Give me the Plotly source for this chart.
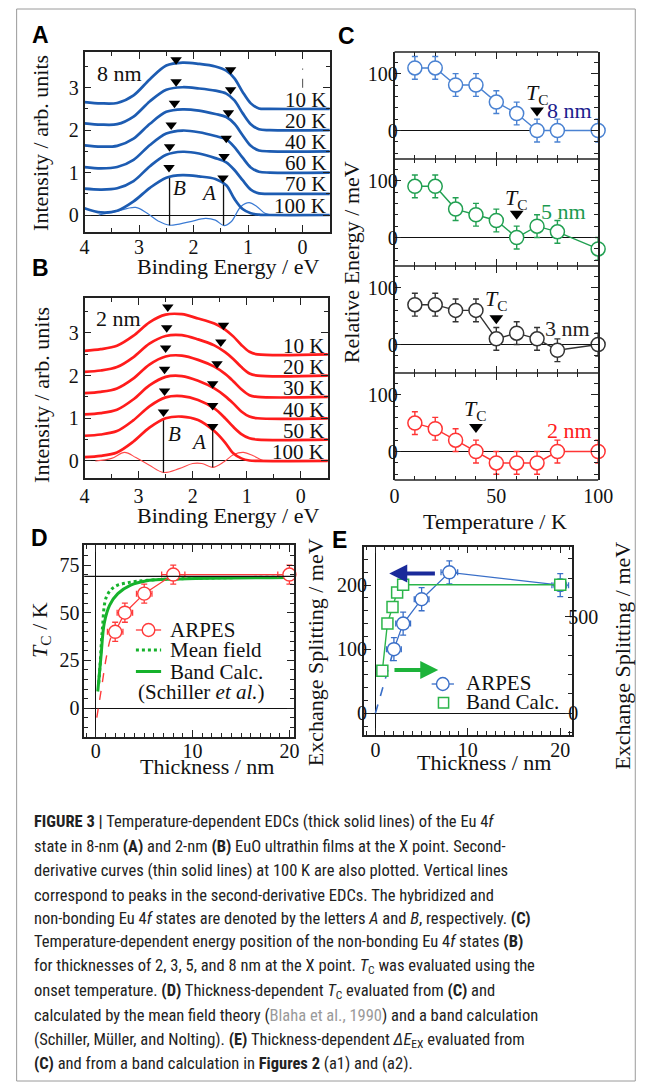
import plotly.graph_objects as go

W, H = 659, 1089
SERIF = "Liberation Serif, Times New Roman, serif"
SANS = "Liberation Sans, Arial, sans-serif"
CAPF = "Liberation Sans Narrow, Roboto Condensed, Roboto, sans-serif"


def X(p):
    return p / W


def Y(p):
    return 1 - p / H


# ---------------- Panel A (8 nm EDCs) ----------------
energy_A = [4.0, 3.7, 3.4, 3.1, 2.8, 2.5, 2.2, 1.9, 1.6, 1.4, 1.25, 1.1, 0.95, 0.8, 0.6, -0.5]
labels_A = ["10 K", "20 K", "40 K", "60 K", "70 K", "100 K"]
edc_A_10K = [2.66, 2.63, 2.64, 2.82, 3.20, 3.52, 3.59, 3.56, 3.50, 3.40, 3.22, 2.90, 2.63, 2.51, 2.50, 2.50]
edc_A_20K = [2.16, 2.13, 2.14, 2.32, 2.68, 2.95, 3.01, 2.98, 2.93, 2.86, 2.70, 2.40, 2.14, 2.02, 2.00, 2.00]
edc_A_40K = [1.64, 1.61, 1.63, 1.80, 2.15, 2.43, 2.49, 2.46, 2.38, 2.31, 2.15, 1.88, 1.63, 1.52, 1.50, 1.50]
edc_A_60K = [1.13, 1.10, 1.13, 1.30, 1.65, 1.92, 1.99, 1.95, 1.86, 1.78, 1.60, 1.35, 1.12, 1.02, 1.00, 1.00]
edc_A_70K = [0.62, 0.60, 0.63, 0.80, 1.15, 1.42, 1.49, 1.45, 1.34, 1.24, 1.06, 0.82, 0.60, 0.51, 0.50, 0.50]
edc_A_100K = [0.16, 0.06, 0.10, 0.32, 0.64, 0.88, 0.94, 0.91, 0.85, 0.70, 0.38, 0.14, 0.04, 0.01, 0.00, 0.00]
edc_A = [edc_A_10K, edc_A_20K, edc_A_40K, edc_A_60K, edc_A_70K, edc_A_100K]

d2_energy_A = [3.74, 3.44, 3.06, 2.85, 2.65, 2.44, 2.08, 1.78, 1.60, 1.44, 1.31, 1.13, 0.98, 0.84, 0.69, 0.55]
d2_A = [0.0, 0.08, 0.18, 0.04, -0.14, -0.24, -0.16, -0.08, -0.12, -0.25, -0.16, 0.20, 0.29, 0.20, 0.04, 0.0]

peakB_A_x = [2.32, 2.32, 2.35, 2.41, 2.44, 2.45]
peakB_A_y = [3.66, 3.14, 2.63, 2.12, 1.61, 1.12]
peakA_A_x = [1.32, 1.32, 1.36, 1.40, 1.44, 1.46]
peakA_A_y = [3.42, 2.95, 2.41, 1.81, 1.38, 0.87]

vline_A_x = [2.44, 1.45]
vline_A_y0 = [-0.24, -0.24]
vline_A_y1 = [0.90, 0.78]

# ---------------- Panel B (2 nm EDCs) ----------------
energy_B = [4.0, 3.7, 3.4, 3.1, 2.8, 2.5, 2.2, 1.9, 1.6, 1.4, 1.25, 1.1, 0.95, 0.8, -0.5]
labels_B = ["10 K", "20 K", "30 K", "40 K", "50 K", "100 K"]
edc_B_10K = [2.58, 2.62, 2.70, 2.93, 3.25, 3.43, 3.44, 3.34, 3.22, 3.08, 2.92, 2.72, 2.56, 2.50, 2.50]
edc_B_20K = [2.09, 2.12, 2.20, 2.43, 2.75, 2.93, 2.95, 2.85, 2.71, 2.55, 2.39, 2.20, 2.05, 2.00, 2.00]
edc_B_30K = [1.59, 1.62, 1.70, 1.93, 2.26, 2.45, 2.47, 2.37, 2.21, 2.04, 1.87, 1.68, 1.54, 1.50, 1.50]
edc_B_40K = [1.09, 1.12, 1.20, 1.44, 1.77, 1.97, 1.99, 1.88, 1.70, 1.52, 1.35, 1.16, 1.04, 1.00, 1.00]
edc_B_50K = [0.59, 0.62, 0.70, 0.95, 1.28, 1.49, 1.52, 1.43, 1.23, 1.00, 0.80, 0.63, 0.53, 0.50, 0.50]
edc_B_100K = [0.09, 0.12, 0.20, 0.45, 0.78, 1.00, 1.04, 0.96, 0.70, 0.43, 0.18, 0.06, 0.01, 0.00, 0.00]
edc_B = [edc_B_10K, edc_B_20K, edc_B_30K, edc_B_40K, edc_B_50K, edc_B_100K]

d2_energy_B = [3.80, 3.50, 3.26, 3.05, 2.80, 2.54, 2.25, 2.00, 1.83, 1.63, 1.42, 1.24, 1.06, 0.88, 0.70, 0.50]
d2_B = [0.0, 0.06, 0.20, 0.08, -0.10, -0.27, -0.18, -0.06, -0.06, -0.15, -0.02, 0.15, 0.20, 0.12, 0.01, 0.0]

peakB_B_x = [2.46, 2.48, 2.50, 2.52, 2.52, 2.54]
peakB_B_y = [3.61, 3.12, 2.65, 2.15, 1.64, 1.15]
peakA_B_x = [1.43, 1.48, 1.55, 1.63, 1.63, 1.63]
peakA_B_y = [3.18, 2.79, 2.28, 1.81, 1.30, 0.81]

vline_B_x = [2.54, 1.63]
vline_B_y0 = [-0.27, -0.15]
vline_B_y1 = [1.00, 0.72]

# ---------------- Panel C (relative energy vs temperature) ----------------
temps_C = [10, 20, 30, 40, 50, 60, 70, 80, 100]
rel_8nm = [110, 110, 80, 80, 50, 30, 0, 0, 0]
rel_5nm = [90, 90, 50, 40, 30, 0, 20, 10, -20]
rel_3nm = [70, 70, 60, 60, 10, 20, 10, -10, 0]
rel_2nm = [50, 40, 20, 0, -20, -20, -20, 0, 0]
rel_err = 20
names_C = ["8 nm", "5 nm", "3 nm", "2 nm"]
tc_C = [70, 60, 50, 40]
tc_mark_y = [35, 42, 46, 43]
tc_text_y = [65, 68, 79, 73]
name_pos_x = [86, 83, 85, 86]
name_pos_y = [35, 45, 28, 37]

# ---------------- Panel D (Tc vs thickness) ----------------
thick_D = [2, 3, 5, 8, 20]
tc_D = [40, 50, 60, 70, 70]
tc_D_err = 5
thick_D_err = [0.8, 0.8, 0.8, 1.2, 1.2]
extrap_D_x = [0.1, 0.6, 1.1, 1.6, 2.0]
extrap_D_y = [-5, 11, 27, 37.5, 40]
mean_field_x = [0.30, 0.43, 0.67, 1.1, 1.93, 3.27, 5.3, 10, 20]
mean_field_y = [13, 22, 41, 58.4, 63.6, 65.7, 67, 68, 68.7]
band_D_x = [0.2, 0.53, 0.87, 1.43, 2.27, 3.6, 5.27, 7.27, 10.3, 20]
band_D_y = [8.7, 27, 44.5, 54, 60, 64.5, 66.8, 67.5, 68, 68.5]
bulk_tc = 69

# ---------------- Panel E (exchange splitting) ----------------
thick_E = [2, 3, 5, 8, 20]
split_E = [100, 140, 178, 220, 200]
split_E_err = 18
thick_E_err = [0.8, 0.8, 0.8, 0.9, 0.9]
extrap_E_x = [0, 2]
extrap_E_y = [0, 100]
band_E_x = [0.75, 1.3, 1.85, 2.35, 3.0, 20]
band_E_y = [220, 465, 550, 625, 665, 665]

BLUE_A = "#1d5cb2"
BLUE_A2 = "#3b7bd4"
RED_B = "#ff1c1c"
C_COLORS = ["#4a82d2", "#22a052", "#333333", "#ff3434"]
C_TEXT = ["#1c1c8e", "#1a9a50", "#222222", "#ff2020"]
GREEN = "#16b22c"
RED_D = "#ff3b3b"
BLUE_E = "#3a6fc8"
GREEN_E = "#2bb54a"

fig = go.Figure()


def add(tr):
    tr.update(hoverinfo="skip", showlegend=False)
    fig.add_trace(tr)


def vlines(xs, y0s, y1s):
    xx, yy = [], []
    for x, a, b in zip(xs, y0s, y1s):
        xx += [x, x, None]
        yy += [a, b, None]
    return xx, yy


# Panel A traces
add(go.Scatter(x=d2_energy_A, y=d2_A, mode="lines", line=dict(color=BLUE_A2, width=1.2, shape="spline", smoothing=1.0), xaxis="x", yaxis="y"))
vx, vy = vlines(vline_A_x, vline_A_y0, vline_A_y1)
add(go.Scatter(x=vx, y=vy, mode="lines", line=dict(color="#111", width=1.3), xaxis="x", yaxis="y"))
for vals in edc_A:
    add(go.Scatter(x=energy_A, y=vals, mode="lines", line=dict(color=BLUE_A, width=2.7, shape="spline", smoothing=0.9), xaxis="x", yaxis="y"))
add(go.Scatter(x=peakB_A_x + peakA_A_x, y=peakB_A_y + peakA_A_y, mode="markers",
               marker=dict(symbol="triangle-down", size=10, color="black"), xaxis="x", yaxis="y"))

# Panel B traces
add(go.Scatter(x=d2_energy_B, y=d2_B, mode="lines", line=dict(color="#ff4a4a", width=1.1, shape="spline", smoothing=1.0), xaxis="x2", yaxis="y2"))
vx, vy = vlines(vline_B_x, vline_B_y0, vline_B_y1)
add(go.Scatter(x=vx, y=vy, mode="lines", line=dict(color="#111", width=1.3), xaxis="x2", yaxis="y2"))
for vals in edc_B:
    add(go.Scatter(x=energy_B, y=vals, mode="lines", line=dict(color=RED_B, width=2.7, shape="spline", smoothing=0.9), xaxis="x2", yaxis="y2"))
add(go.Scatter(x=peakB_B_x + peakA_B_x, y=peakB_B_y + peakA_B_y, mode="markers",
               marker=dict(symbol="triangle-down", size=10, color="black"), xaxis="x2", yaxis="y2"))

# Panel C traces
rel_all = [rel_8nm, rel_5nm, rel_3nm, rel_2nm]
for i, vals in enumerate(rel_all):
    xa, ya = "x%d" % (i + 3), "y%d" % (i + 3)
    col = C_COLORS[i]
    add(go.Scatter(x=temps_C, y=vals, mode="lines+markers",
                   line=dict(color=col, width=1.4),
                   marker=dict(symbol="circle", size=14, color="white", line=dict(color=col, width=1.5)),
                   error_y=dict(type="constant", value=rel_err, color=col, thickness=1.4, width=3),
                   xaxis=xa, yaxis=ya, cliponaxis=False))
    add(go.Scatter(x=[tc_C[i]], y=[tc_mark_y[i]], mode="markers",
                   marker=dict(symbol="triangle-down", size=12, color="black"), xaxis=xa, yaxis=ya))

# Panel D traces
add(go.Scatter(x=mean_field_x, y=mean_field_y, mode="lines", line=dict(color=GREEN, width=3, dash="dot", shape="spline"), xaxis="x7", yaxis="y7"))
add(go.Scatter(x=band_D_x, y=band_D_y, mode="lines", line=dict(color=GREEN, width=3, shape="spline"), xaxis="x7", yaxis="y7"))
add(go.Scatter(x=extrap_D_x, y=extrap_D_y, mode="lines", line=dict(color=RED_D, width=1.4, dash="dash", shape="spline"), xaxis="x7", yaxis="y7"))
add(go.Scatter(x=thick_D, y=tc_D, mode="lines+markers", line=dict(color=RED_D, width=1.3),
               marker=dict(symbol="circle", size=13, color="white", line=dict(color=RED_D, width=1.4)),
               error_y=dict(type="constant", value=tc_D_err, color=RED_D, thickness=1.3, width=3),
               error_x=dict(type="data", array=thick_D_err, color=RED_D, thickness=1.3, width=3),
               xaxis="x7", yaxis="y7", cliponaxis=False))

# Panel E traces
add(go.Scatter(x=extrap_E_x, y=extrap_E_y, mode="lines", line=dict(color=BLUE_E, width=1.6, dash="dash"), xaxis="x8", yaxis="y8"))
add(go.Scatter(x=band_E_x, y=band_E_y, mode="lines+markers", line=dict(color=GREEN_E, width=1.4),
               marker=dict(symbol="square", size=11, color="white", line=dict(color=GREEN_E, width=1.5)),
               xaxis="x8", yaxis="y9", cliponaxis=False))
add(go.Scatter(x=thick_E, y=split_E, mode="lines+markers", line=dict(color=BLUE_E, width=1.3),
               marker=dict(symbol="circle", size=13, color="white", line=dict(color=BLUE_E, width=1.4)),
               error_y=dict(type="constant", value=split_E_err, color=BLUE_E, thickness=1.3, width=3),
               error_x=dict(type="data", array=thick_E_err, color=BLUE_E, thickness=1.3, width=3),
               xaxis="x8", yaxis="y8", cliponaxis=False))


def axis(domain, rng, anchor, tickvals, minor_vals, labels=True, mirror="ticks", zeroline=False,
         side=None, showline=True, standoff=0):
    d = dict(domain=domain, range=rng, anchor=anchor, tickmode="array", tickvals=tickvals,
             showticklabels=labels, ticks="inside", ticklen=7, tickwidth=1.3, tickcolor="#222",
             showline=showline, linecolor="#222", linewidth=1.5, mirror=mirror, showgrid=False,
             zeroline=zeroline, zerolinecolor="#111", zerolinewidth=1.3,
             tickfont=dict(family=SERIF, size=20, color="#111"), ticklabelstandoff=standoff,
             minor=dict(tickmode="array", tickvals=minor_vals, ticks="inside", ticklen=4,
                        tickwidth=1.1, tickcolor="#222", showgrid=False))
    if side:
        d["side"] = side
    return d


layout = dict(width=W, height=H, margin=dict(l=0, r=0, t=0, b=0), paper_bgcolor="white",
              plot_bgcolor="rgba(0,0,0,0)", showlegend=False)

# A
layout["xaxis"] = axis([X(82), X(335)], [4, -0.5], "y", [0, 1, 2, 3, 4], [-0.5, 0.5, 1.5, 2.5, 3.5], standoff=-4)
layout["yaxis"] = axis([Y(232), Y(52)], [-0.4, 3.84], "x", [0, 1, 2, 3], [-0.5, 0.5, 1.5, 2.5, 3.5], zeroline=True)
# B
layout["xaxis2"] = axis([X(82), X(333)], [4, -0.5], "y2", [0, 1, 2, 3, 4], [-0.5, 0.5, 1.5, 2.5, 3.5], standoff=-1)
layout["yaxis2"] = axis([Y(478), Y(298)], [-0.4, 3.82], "x2", [0, 1, 2, 3], [-0.5, 0.5, 1.5, 2.5, 3.5], zeroline=True)
# C
c_bounds = [52, 159, 266, 373, 480]
for i in range(4):
    n = i + 3
    layout["xaxis%d" % n] = axis([X(401.7), X(611.7)], [0, 100], "y%d" % n, [0, 50, 100],
                                 [10, 20, 30, 40, 60, 70, 80, 90], labels=(i == 3), showline=False,
                                 standoff=2)
    layout["yaxis%d" % n] = axis([Y(c_bounds[i + 1]), Y(c_bounds[i])], [-50, 138], "x%d" % n, [0, 100],
                                 [-40, -20, 20, 40, 60, 80, 120], zeroline=True, standoff=-9)
# D
layout["xaxis7"] = axis([X(81.7), X(298.3)], [-1.2, 20.5], "y7", [0, 10, 20],
                        [v for v in range(-1, 21) if v % 10 != 0], zeroline=True, standoff=-4)
layout["yaxis7"] = axis([Y(736.7), Y(545)], [-15, 85.5], "x7", [0, 25, 50, 75],
                        [v for v in range(-10, 86, 5) if v % 25 != 0], zeroline=True, standoff=-1)
# E
layout["xaxis8"] = axis([X(370), X(585)], [-1.26, 21.3], "y8", [0, 10, 20],
                        [v for v in range(-1, 22) if v % 10 != 0], zeroline=True, standoff=-4)
layout["yaxis8"] = axis([Y(735), Y(546.7)], [-34, 260], "x8", [0, 100, 200],
                        [v for v in range(-20, 261, 20) if v % 100 != 0], mirror=True, zeroline=True,
                        standoff=-9)
layout["yaxis9"] = axis([Y(735), Y(546.7)], [-112.6, 862], "x8", [0, 500],
                        [-100, 100, 200, 300, 400, 600, 700, 800], mirror=False, side="right",
                        showline=False, standoff=-5)
layout["yaxis9"]["overlaying"] = "y8"

ann = []


def text(x, y, s, size=22, xref="paper", yref="paper", xanchor="center", yanchor="middle",
         color="#111", family=SERIF, angle=0):
    ann.append(dict(x=x, y=y, xref=xref, yref=yref, text=s, showarrow=False, xanchor=xanchor,
                    yanchor=yanchor, font=dict(family=family, size=size, color=color), textangle=angle))


# Panel letters
for lab, (lx, ly) in zip("ABCDE", [(37, 35), (37, 268), (352, 36), (36, 538), (345, 540)]):
    text(X(lx), Y(ly), "<b>%s</b>" % lab, size=23, family=SANS, color="#000")

# Axis titles
text(X(37), Y(143), "Intensity / arb. units", angle=-90)
text(X(230), Y(266), "Binding Energy / eV")
text(X(37), Y(395), "Intensity / arb. units", angle=-90)
text(X(230), Y(515), "Binding Energy / eV")
text(X(357), Y(262), "Relative Energy / meV", angle=-90)
text(X(505), Y(521), "Temperature / K")
text(X(37), Y(630), "<i>T</i><sub>C</sub> / K", angle=-90)
text(X(208), Y(766), "Thickness / nm")
text(X(320), Y(652), "Exchange Splitting / meV", angle=-90)
text(X(494), Y(762), "Thickness / nm")
text(X(636), Y(656), "Exchange Splitting / meV", angle=-90)

# A/B in-plot labels
text(X(118), Y(73), "8 nm")
text(X(117), Y(318), "2 nm")
for lab, vals in zip(labels_A, edc_A):
    text(-0.46, vals[-1] + 0.22, lab, xref="x", yref="y", xanchor="right", size=21)
for lab, vals in zip(labels_B, edc_B):
    text(-0.46, vals[-1] + 0.2, lab, xref="x2", yref="y2", xanchor="right", size=21)
text(2.26, 0.63, "<i>B</i>", xref="x", yref="y", size=21)
text(1.72, 0.51, "<i>A</i>", xref="x", yref="y", size=21)
text(2.34, 0.64, "<i>B</i>", xref="x2", yref="y2", size=21)
text(1.89, 0.45, "<i>A</i>", xref="x2", yref="y2", size=21)

# C labels
for i in range(4):
    n = i + 3
    text(tc_C[i], tc_text_y[i], "<i>T</i><sub>C</sub>", xref="x%d" % n, yref="y%d" % n, size=22)
    text(name_pos_x[i], name_pos_y[i], names_C[i], xref="x%d" % n, yref="y%d" % n, size=22, color=C_TEXT[i])

shapes = []
# C frame horizontal lines (box edges between stacked panels)
for b in c_bounds:
    shapes.append(dict(type="line", xref="paper", yref="paper", x0=X(401.7), x1=X(611.7), y0=Y(b), y1=Y(b),
                       line=dict(color="#222", width=1.5)))

# D legend
text(X(168), Y(630), "ARPES", xanchor="left", size=21)
text(X(168), Y(650), "Mean field", xanchor="left", size=21)
text(X(168), Y(671.5), "Band Calc.", xanchor="left", size=21)
text(X(135), Y(692), "(Schiller <i>et al.</i>)", xanchor="left", size=21)
shapes.append(dict(type="line", xref="paper", yref="paper", x0=X(135), x1=X(161), y0=Y(630), y1=Y(630), line=dict(color=RED_D, width=1.3)))
shapes.append(dict(type="circle", xref="paper", yref="paper", x0=X(141.5), x1=X(154.5), y0=Y(636.5), y1=Y(623.5), fillcolor="white", line=dict(color=RED_D, width=1.4)))
shapes.append(dict(type="line", xref="paper", yref="paper", x0=X(135), x1=X(161), y0=Y(650), y1=Y(650), line=dict(color=GREEN, width=3, dash="dot")))
shapes.append(dict(type="line", xref="paper", yref="paper", x0=X(135), x1=X(161), y0=Y(671.5), y1=Y(671.5), line=dict(color=GREEN, width=3)))
shapes.append(dict(type="line", xref="x7 domain", yref="y7", x0=0, x1=1, y0=bulk_tc, y1=bulk_tc, line=dict(color="#111", width=1.3)))

# E legend
text(X(473), Y(683), "ARPES", xanchor="left", size=21)
text(X(473), Y(702), "Band Calc.", xanchor="left", size=21)
shapes.append(dict(type="line", xref="paper", yref="paper", x0=X(440), x1=X(463), y0=Y(684), y1=Y(684), line=dict(color=BLUE_E, width=1.3)))
shapes.append(dict(type="circle", xref="paper", yref="paper", x0=X(445), x1=X(458), y0=Y(690.5), y1=Y(677.5), fillcolor="white", line=dict(color=BLUE_E, width=1.4)))
shapes.append(dict(type="rect", xref="paper", yref="paper", x0=X(447), x1=X(457.5), y0=Y(708), y1=Y(697.5), fillcolor="white", line=dict(color=GREEN_E, width=1.5)))

# E arrows
arrow_blue = dict(head=1.5, tail=6.6, level=218)
arrow_green = dict(head=6.8, tail=1.9, level=67.5)
for arr, col in [(arrow_blue, "#1a2a9a"), (arrow_green, "#1db33a")]:
    ann.append(dict(x=arr["head"], y=arr["level"], ax=arr["tail"], ay=arr["level"], xref="x8", yref="y8",
                    axref="x8", ayref="y8", showarrow=True, arrowhead=2, arrowsize=0.9, arrowwidth=4,
                    arrowcolor=col, text=""))

# A dashed Fermi-level mark
shapes.append(dict(type="line", xref="x", yref="y", x0=0, x1=0, y0=3.0, y1=3.45, line=dict(color="#666", width=1.2, dash="dash")))

# Border
shapes.append(dict(type="rect", xref="paper", yref="paper", x0=X(12), x1=X(650), y0=Y(1081), y1=Y(9), line=dict(color="#9a9a9a", width=1)))

# Caption
caption = [
    "<b>FIGURE 3 |</b> Temperature-dependent EDCs (thick solid lines) of the Eu 4<i>f</i>",
    "state in 8-nm <b>(A)</b> and 2-nm <b>(B)</b> EuO ultrathin films at the X point. Second-",
    "derivative curves (thin solid lines) at 100 K are also plotted. Vertical lines",
    "correspond to peaks in the second-derivative EDCs. The hybridized and",
    "non-bonding Eu 4<i>f</i> states are denoted by the letters <i>A</i> and <i>B</i>, respectively. <b>(C)</b>",
    "Temperature-dependent energy position of the non-bonding Eu 4<i>f</i> states <b>(B)</b>",
    "for thicknesses of 2, 3, 5, and 8 nm at the X point. <i>T</i><sub>C</sub> was evaluated using the",
    "onset temperature. <b>(D)</b> Thickness-dependent <i>T</i><sub>C</sub> evaluated from <b>(C)</b> and",
    "calculated by the mean field theory (<span style='color:#9a9a9a'>Blaha et al., 1990</span>) and a band calculation",
    "(Schiller, Müller, and Nolting). <b>(E)</b> Thickness-dependent <i>ΔE</i><sub>EX</sub> evaluated from",
    "<b>(C)</b> and from a band calculation in <b>Figures 2</b> (a1) and (a2).",
]
cap_y = [821.7, 846.7, 870, 895, 918, 941.7, 966.7, 991.7, 1015, 1040, 1063]
for line, yy in zip(caption, cap_y):
    text(X(28), Y(yy), line, size=16.5, xanchor="left", family=CAPF, color="#222")

layout["annotations"] = ann
layout["shapes"] = shapes
fig.update_layout(**layout)
fig.write_html("out.html")
